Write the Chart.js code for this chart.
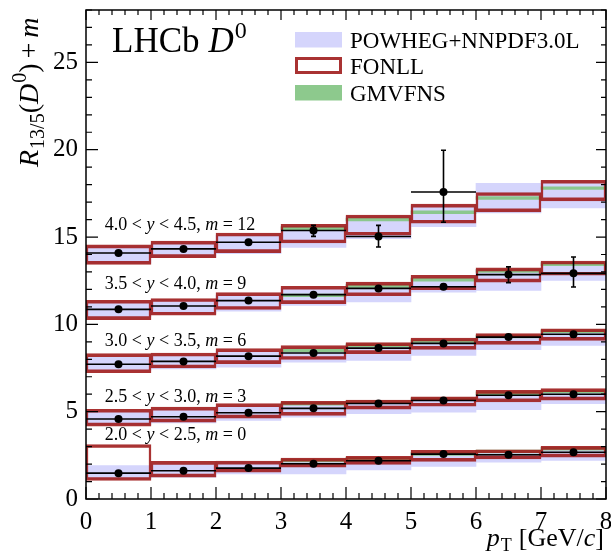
<!DOCTYPE html>
<html><head><meta charset="utf-8">
<script src="https://cdn.jsdelivr.net/npm/chart.js@4.4.0/dist/chart.umd.min.js"></script>
<style>html,body{margin:0;padding:0;background:#fff}#wrap{width:611px;height:555px}</style>
</head><body><div id="wrap"><canvas id="c" width="611" height="555"></canvas></div>
<script>
// ---------------- DATA ----------------
const binEdges = [0,1,2,3,4,5,6,7,8];
const xTickLabels = ['0','1','2','3','4','5','6','7','8'];
const yTickValues = [0,5,10,15,20,25];
const offsetsM = [0,3,6,9,12];
const rapidityLo = ['2.0','2.5','3.0','3.5','4.0'];
const rapidityHi = ['2.5','3.0','3.5','4.0','4.5'];
const seriesNames = ['POWHEG+NNPDF3.0L','FONLL','GMVFNS','LHCb'];

// R_{13/5} (without offset m), rapidity 2.0-2.5
const data_y20 = [1.48,1.62,1.77,2.02,2.19,2.57,2.53,2.68];
const errUp_y20 = [0.05,0.05,0.05,0.05,0.06,0.07,0.08,0.10];
const errDn_y20 = [0.05,0.05,0.05,0.05,0.06,0.07,0.08,0.10];
const fonllLo_y20 = [1.06,1.25,1.54,1.82,1.98,2.15,2.30,2.40];
const fonllHi_y20 = [3.12,2.15,2.17,2.34,2.44,2.78,2.82,3.01];
const powhegLo_y20 = [1.16,1.25,1.44,1.44,1.67,1.86,2.11,2.21];
const powhegHi_y20 = [1.92,2.00,2.10,2.25,2.38,2.65,2.75,2.92];
const gmLo_y20 = [null,null,null,2.13,2.22,2.50,2.64,2.80];
const gmHi_y20 = [null,null,null,2.29,2.38,2.66,2.80,2.96];

// rapidity 2.5-3.0
const data_y25 = [1.58,1.71,1.94,2.19,2.47,2.64,2.94,3.00];
const errUp_y25 = [0.05,0.05,0.05,0.06,0.06,0.07,0.08,0.10];
const errDn_y25 = [0.05,0.05,0.05,0.06,0.06,0.07,0.08,0.10];
const fonllLo_y25 = [1.17,1.40,1.63,1.79,2.15,2.31,2.56,2.66];
const fonllHi_y25 = [2.14,2.26,2.46,2.59,2.67,2.85,3.22,3.32];
const powhegLo_y25 = [1.25,1.35,1.50,1.69,1.88,1.97,2.11,2.46];
const powhegHi_y25 = [1.97,2.10,2.30,2.45,2.60,2.75,3.00,3.20];
const gmLo_y25 = [null,null,null,2.37,2.47,2.64,2.97,3.07];
const gmHi_y25 = [null,null,null,2.53,2.63,2.80,3.13,3.23];

// rapidity 3.0-3.5
const data_y30 = [1.72,1.88,2.18,2.36,2.64,2.91,3.27,3.43];
const errUp_y30 = [0.05,0.05,0.06,0.06,0.07,0.08,0.10,0.15];
const errDn_y30 = [0.05,0.05,0.06,0.06,0.07,0.08,0.10,0.15];
const fonllLo_y30 = [1.23,1.50,1.75,1.99,2.32,2.57,2.85,3.08];
const fonllHi_y30 = [2.32,2.36,2.61,2.78,2.95,3.22,3.47,3.75];
const powhegLo_y30 = [1.36,1.45,1.55,1.84,1.94,2.22,2.55,2.80];
const powhegHi_y30 = [2.13,2.20,2.45,2.65,2.85,3.10,3.35,3.65];
const gmLo_y30 = [null,null,null,2.43,2.72,2.96,3.23,3.52];
const gmHi_y30 = [null,null,null,2.59,2.88,3.12,3.39,3.68];

// rapidity 3.5-4.0
const data_y35 = [1.86,2.05,2.36,2.70,3.06,3.15,3.85,3.92];
const errUp_y35 = [0.05,0.05,0.06,0.08,0.10,0.13,0.44,0.94];
const errDn_y35 = [0.05,0.05,0.06,0.08,0.10,0.13,0.46,0.78];
const fonllLo_y35 = [1.27,1.52,1.85,2.19,2.64,2.99,3.42,3.81];
const fonllHi_y35 = [2.38,2.48,2.82,3.18,3.42,3.81,4.23,4.63];
const powhegLo_y35 = [1.42,1.60,1.76,2.09,2.28,2.85,2.95,3.52];
const powhegHi_y35 = [2.28,2.40,2.66,3.05,3.30,3.70,4.15,4.55];
const gmLo_y35 = [null,null,null,2.58,3.12,3.48,3.97,4.36];
const gmHi_y35 = [null,null,null,2.74,3.28,3.64,4.13,4.52];

// rapidity 4.0-4.5
const data_y40 = [2.09,2.32,2.70,3.37,3.03,5.58,null,null];
const errUp_y40 = [0.07,0.08,0.10,0.30,0.64,2.39,null,null];
const errDn_y40 = [0.07,0.08,0.10,0.33,0.60,1.73,null,null];
const fonllLo_y40 = [1.43,1.82,2.11,2.66,3.10,3.79,4.44,5.07];
const fonllHi_y40 = [2.55,2.77,3.23,3.73,4.26,4.88,5.55,6.25];
const powhegLo_y40 = [1.50,1.85,2.05,2.40,2.91,3.60,4.38,4.67];
const powhegHi_y40 = [2.45,2.65,3.10,3.62,4.19,4.80,6.08,6.20];
const gmLo_y40 = [null,null,null,3.42,3.92,4.34,5.16,5.72];
const gmHi_y40 = [null,null,null,3.58,4.08,4.50,5.32,5.88];

// ---------------- BUILD ----------------
const binCenters = binEdges.slice(0,-1).map((e,i)=>(e+binEdges[i+1])/2);
const groups = [
  {data:data_y20, up:errUp_y20, dn:errDn_y20, fLo:fonllLo_y20, fHi:fonllHi_y20, pLo:powhegLo_y20, pHi:powhegHi_y20, gLo:gmLo_y20, gHi:gmHi_y20},
  {data:data_y25, up:errUp_y25, dn:errDn_y25, fLo:fonllLo_y25, fHi:fonllHi_y25, pLo:powhegLo_y25, pHi:powhegHi_y25, gLo:gmLo_y25, gHi:gmHi_y25},
  {data:data_y30, up:errUp_y30, dn:errDn_y30, fLo:fonllLo_y30, fHi:fonllHi_y30, pLo:powhegLo_y30, pHi:powhegHi_y30, gLo:gmLo_y30, gHi:gmHi_y30},
  {data:data_y35, up:errUp_y35, dn:errDn_y35, fLo:fonllLo_y35, fHi:fonllHi_y35, pLo:powhegLo_y35, pHi:powhegHi_y35, gLo:gmLo_y35, gHi:gmHi_y35},
  {data:data_y40, up:errUp_y40, dn:errDn_y40, fLo:fonllLo_y40, fHi:fonllHi_y40, pLo:powhegLo_y40, pHi:powhegHi_y40, gLo:gmLo_y40, gHi:gmHi_y40}
].map((g,k)=>Object.assign(g,{m:offsetsM[k], yLo:rapidityLo[k], yHi:rapidityHi[k]}));

function floatBars(loKey, hiKey){
  const out=[];
  groups.forEach(g=>g[loKey].forEach((v,i)=>{
    if(v==null) return;
    out.push({x:binCenters[i], y:[v+g.m, g[hiKey][i]+g.m]});
  }));
  return out;
}
function points(){
  const out=[];
  groups.forEach(g=>g.data.forEach((v,i)=>{ if(v!=null) out.push({x:binCenters[i], y:v+g.m}); }));
  return out;
}

const SERIF = "'Liberation Serif','DejaVu Serif',serif";
const COL_POWHEG = 'rgb(213,213,252)';
const COL_FONLL = 'rgba(160,28,28,0.9)';
const COL_GM = 'rgba(135,198,135,0.95)';

function drawRich(ctx, parts, x, y, measureOnly){
  let cx = x;
  parts.forEach(p=>{
    ctx.font = (p.it?'italic ':'') + p.size + 'px ' + SERIF;
    if(!measureOnly && p.t) ctx.fillText(p.t, cx, y + (p.dy||0));
    cx += (p.t ? ctx.measureText(p.t).width : 0) + (p.gap||0);
  });
  return cx - x;
}

const decorPlugin = {
  id:'decor',
  afterDatasetsDraw(chart){
    const {ctx, scales:{x,y}, chartArea:a} = chart;
    ctx.save();
    ctx.beginPath(); ctx.rect(a.left, a.top, a.right-a.left, a.bottom-a.top); ctx.clip();
    ctx.strokeStyle='#000'; ctx.fillStyle='#000'; ctx.lineWidth=1.6;
    groups.forEach(g=>g.data.forEach((v,i)=>{
      if(v==null) return;
      const yc=y.getPixelForValue(v+g.m);
      const x0=x.getPixelForValue(binEdges[i]), x1=x.getPixelForValue(binEdges[i+1]), xc=x.getPixelForValue(binCenters[i]);
      ctx.beginPath(); ctx.moveTo(x0,yc); ctx.lineTo(x1,yc); ctx.stroke();
      const yt=y.getPixelForValue(v+g.m+g.up[i]), yb=y.getPixelForValue(v+g.m-g.dn[i]);
      ctx.beginPath(); ctx.moveTo(xc,yt); ctx.lineTo(xc,yb);
      ctx.moveTo(xc-2.5,yt); ctx.lineTo(xc+2.5,yt);
      ctx.moveTo(xc-2.5,yb); ctx.lineTo(xc+2.5,yb); ctx.stroke();
    }));
    ctx.restore();
  },
  afterDraw(chart){
    const {ctx, scales:{x,y}, chartArea:a} = chart;
    ctx.save();
    ctx.fillStyle='#000'; ctx.strokeStyle='#000';
    // frame
    ctx.lineWidth=1.5;
    ctx.strokeRect(a.left, a.top, a.right-a.left, a.bottom-a.top);
    // ticks
    ctx.lineWidth=1.2;
    ctx.beginPath();
    for(let v=x.min; v<=x.max+1e-9; v+=0.2){
      const px=x.getPixelForValue(v);
      const major=Math.abs(v-Math.round(v))<1e-6;
      const L=major?12:6;
      ctx.moveTo(px,a.bottom); ctx.lineTo(px,a.bottom-L);
      ctx.moveTo(px,a.top); ctx.lineTo(px,a.top+(major?10:5));
    }
    for(let v=y.min; v<=y.max+1e-9; v+=1){
      const py=y.getPixelForValue(v);
      const major=v%5===0;
      ctx.moveTo(a.left,py); ctx.lineTo(a.left+(major?12:6),py);
      ctx.moveTo(a.right,py); ctx.lineTo(a.right-(major?10:5),py);
    }
    ctx.stroke();

    // rapidity labels
    ctx.textBaseline='alphabetic'; ctx.textAlign='left';
    const labelY=[3.39,5.55,8.74,12.05,15.39];
    groups.forEach((g,k)=>{
      const s=18, gap=4.5;
      drawRich(ctx,[
        {t:g.yLo,size:s,gap:gap},{t:'<',size:s,gap:gap},{t:'y',it:1,size:s,gap:gap},{t:'<',size:s,gap:gap},
        {t:g.yHi+',',size:s,gap:gap},{t:'m',it:1,size:s,gap:gap},{t:'=',size:s,gap:gap},{t:String(g.m),size:s}
      ], x.getPixelForValue(0.29), y.getPixelForValue(labelY[k]));
    });

    // LHCb D0
    drawRich(ctx,[{t:'LHCb',size:35,gap:9},{t:'D',it:1,size:35,gap:1},{t:'0',size:24,dy:-14}], 112, 52);

    // legend
    const lx=295, lw=47, tx=350;
    ctx.fillStyle=COL_POWHEG; ctx.fillRect(lx,32,lw,15.5);
    ctx.strokeStyle=COL_FONLL; ctx.lineWidth=3; ctx.strokeRect(lx+1.5,58.5,lw-3,14);
    ctx.fillStyle=COL_GM; ctx.fillRect(lx,85,lw,15.5);
    ctx.fillStyle='#000'; ctx.font='23px '+SERIF;
    ctx.fillText(seriesNames[0],tx,47.5);
    ctx.fillText(seriesNames[1],tx,74);
    ctx.fillText(seriesNames[2],tx,100.5);

    // y title (rotated)
    ctx.save();
    ctx.translate(38,167); ctx.rotate(-Math.PI/2);
    drawRich(ctx,[
      {t:'R',it:1,size:28,gap:1},{t:'13/5',size:20,dy:6},{t:'(',size:28},{t:'D',it:1,size:28,gap:1},{t:'0',size:20,dy:-12},
      {t:')',size:28,gap:5},{t:'+',size:28,gap:5},{t:'m',it:1,size:28}
    ],0,0);
    ctx.restore();

    // x title
    const xparts=[{t:'p',it:1,size:26,gap:1},{t:'T',size:18,dy:5,gap:7},{t:'[GeV/',size:26},{t:'c',it:1,size:26},{t:']',size:26}];
    const w=drawRich(ctx,xparts,0,0,true);
    drawRich(ctx,xparts,604-w,546);
    ctx.restore();
  }
};

const barCommon = {grouped:false, barPercentage:1, categoryPercentage:1, borderSkipped:false};

new Chart(document.getElementById('c').getContext('2d'), {
  type:'bar',
  data:{datasets:[
    {type:'scatter', label:seriesNames[3], data:points(), backgroundColor:'#000', borderColor:'#000', borderWidth:0, pointRadius:4, pointHoverRadius:4, order:0},
    Object.assign({label:seriesNames[1], data:floatBars('fLo','fHi'), backgroundColor:'rgba(0,0,0,0)', borderColor:COL_FONLL, borderWidth:{top:3,bottom:3,left:1.8,right:1.8}, order:1}, barCommon),
    Object.assign({label:seriesNames[2], data:floatBars('gLo','gHi'), backgroundColor:COL_GM, borderWidth:0, order:2}, barCommon),
    Object.assign({label:seriesNames[0], data:floatBars('pLo','pHi'), backgroundColor:COL_POWHEG, borderWidth:0, order:3}, barCommon)
  ]},
  options:{
    responsive:false, animation:false, devicePixelRatio:1,
    layout:{padding:{left:0,right:5,top:10,bottom:0}},
    plugins:{legend:{display:false}, tooltip:{enabled:false}},
    scales:{
      x:{type:'linear', min:0, max:8, offset:false,
         grid:{display:false, drawTicks:false, offset:false}, border:{display:false},
         ticks:{stepSize:1, includeBounds:true, padding:8, maxRotation:0, autoSkip:false, color:'#000',
                font:{family:SERIF, size:25}, callback:(v)=>xTickLabels[Math.round(v)]},
         afterFit(s){ s.height=56; s.paddingLeft=0; s.paddingRight=0; s.paddingTop=0; s.paddingBottom=0; }},
      y:{type:'linear', min:0, max:28,
         grid:{display:false, drawTicks:false}, border:{display:false},
         afterBuildTicks(s){ s.ticks = yTickValues.map(v=>({value:v})); },
         ticks:{padding:8, color:'#000', font:{family:SERIF, size:25}, autoSkip:false},
         afterFit(s){ s.width=86; s.paddingLeft=0; s.paddingRight=0; s.paddingTop=0; s.paddingBottom=0; }}
    }
  },
  plugins:[decorPlugin]
});
</script></body></html>
